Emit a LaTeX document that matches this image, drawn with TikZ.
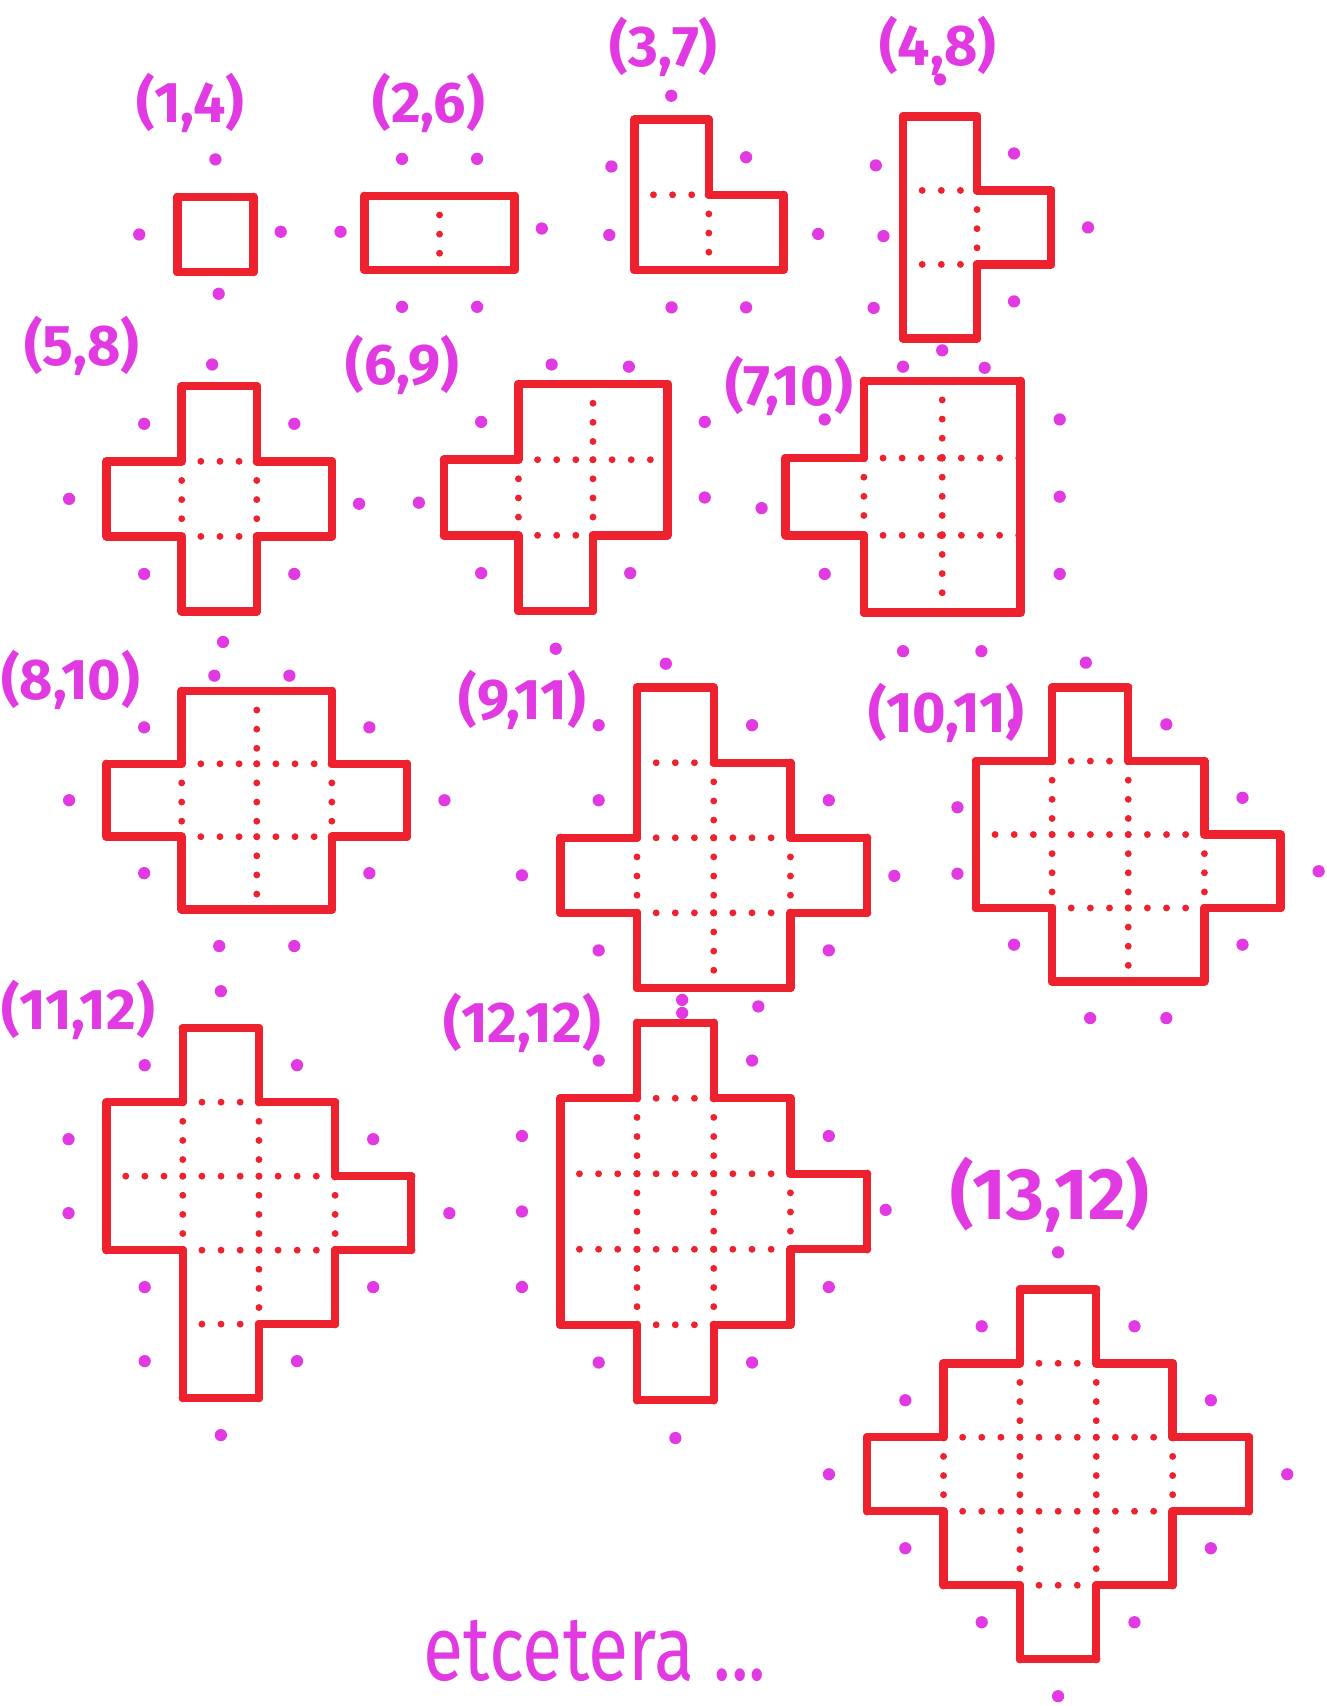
\documentclass[tikz,border=0pt]{standalone}
\usepackage{fontspec}
\setmainfont{Fira Sans}
\usepackage{graphicx}
\definecolor{pred}{RGB}{238,34,46}
\definecolor{pmag}{RGB}{226,58,226}
\tikzset{
  outline/.style={draw=pred,line width=2.2pt,line cap=round},
  inner/.style={draw=pred,line width=1.8pt,line cap=round,dash pattern=on 0pt off 5pt},
  nbdot/.style={fill=pmag,draw=none},
  lab/.style={text=pmag,font=\fontsize{15}{15}\selectfont\bfseries,inner sep=1pt},
  biglab/.style={text=pmag,font=\fontsize{19}{19}\selectfont\bfseries,inner sep=1pt},
  etclab/.style={text=pmag,font=\fontsize{24}{24}\selectfont,inner sep=0pt,text depth=0pt,anchor=base},
}
\newcommand\nbmark[3]{%
  \ifcsname pd-#1-#2-#3\endcsname\else
    \expandafter\gdef\csname pd-#1-#2-#3\endcsname{}%
    \fill[nbdot] (#2+0.5,#3+0.5) circle[radius=1.6pt];%
  \fi}
\newcommand\dotat[5]{%
  \expandafter\gdef\csname pd-#1-#2-#3\endcsname{}%
  \fill[nbdot] (#4,#5) circle[radius=1.6pt];}
\newcommand\polyomino[6]{%
  \begin{scope}[shift={(#2,#3)},x={({#4*0.01cm},0cm)},y={(0cm,{-#5*0.01cm})}]
    \foreach \cx/\cy in {#6}{\expandafter\gdef\csname pc-#1-\cx-\cy\endcsname{}}
    \foreach \cx/\cy in {#6}{%
      \pgfmathtruncatemacro\xl{\cx-1}%
      \pgfmathtruncatemacro\xr{\cx+1}%
      \pgfmathtruncatemacro\yu{\cy-1}%
      \pgfmathtruncatemacro\yd{\cy+1}%
      \ifcsname pc-#1-\xr-\cy\endcsname
        \draw[inner] (\xr,\cy) -- (\xr,\yd);%
      \else
        \draw[outline] (\xr,\cy) -- (\xr,\yd);%
        \nbmark{#1}{\xr}{\cy}%
      \fi
      \ifcsname pc-#1-\cx-\yd\endcsname
        \draw[inner] (\cx,\yd) -- (\xr,\yd);%
      \else
        \draw[outline] (\cx,\yd) -- (\xr,\yd);%
        \nbmark{#1}{\cx}{\yd}%
      \fi
      \ifcsname pc-#1-\xl-\cy\endcsname\else
        \draw[outline] (\cx,\cy) -- (\cx,\yd);%
        \nbmark{#1}{\xl}{\cy}%
      \fi
      \ifcsname pc-#1-\cx-\yu\endcsname\else
        \draw[outline] (\cx,\cy) -- (\xr,\cy);%
        \nbmark{#1}{\cx}{\yu}%
      \fi
    }
  \end{scope}}
\begin{document}
\begin{tikzpicture}[x=0.01cm,y=-0.01cm]
\fill[white] (0,0) rectangle (1219,1568);
\useasboundingbox (0,0) rectangle (1219,1568);
% labels
\node[lab] (l1) at (175,95) {(1,4)};
\node[lab] (l2) at (394,95) {(2,6)};
\node[lab] (l3) at (610,43) {(3,7)};
\node[lab] (l4) at (862,42) {(4,8)};
\node[lab] (l5) at (75,318) {(5,8)};
\node[lab] (l6) at (370,335) {(6,9)};
\node[lab] (l7) at (725,355) {(7,10)};
\node[lab] (l8) at (65,625) {(8,10)};
\node[lab] (l9) at (480,643) {(9,11)};
\node[lab] (l10) at (870,655) {(10,11)};
\node[lab] (l11) at (72,928) {(11,12)};
\node[lab] (l12) at (480,940) {(12,12)};
\node[biglab] (l13) at (965,1098) {(13,12)};
\node[etclab] (etc) at (547,1545) {\scalebox{0.8}[1]{etcetera ...}};
% figures
\dotat{A}{1}{0}{258}{213}
\dotat{A}{0}{1}{201}{270}
\polyomino{A}{163}{181}{70}{69}{0/0}
\dotat{B}{-1}{0}{313}{213}
\dotat{B}{2}{0}{498}{210}
\polyomino{B}{335}{180}{69}{68}{0/0,1/0}
\dotat{C}{0}{-1}{617}{88}
\dotat{C}{-1}{0}{562}{153}
\dotat{C}{-1}{1}{560}{216}
\dotat{C}{2}{1}{752}{215}
\polyomino{C}{583}{110}{68.5}{69}{0/0,0/1,1/1}
\dotat{D}{0}{3}{866}{322}
\dotat{D}{-1}{0}{805}{152}
\dotat{D}{-1}{1}{812}{217}
\dotat{D}{-1}{2}{803}{283}
\polyomino{D}{830}{107}{68}{68}{0/0,0/1,0/2,1/1}
\dotat{E}{1}{3}{205}{590}
\dotat{E}{1}{-1}{195}{335}
\dotat{E}{3}{1}{330}{463}
\polyomino{E}{98}{355}{69}{69}{1/0,0/1,1/1,2/1,1/2}
\dotat{F}{1}{-1}{507}{335}
\dotat{F}{2}{-1}{578}{337}
\dotat{F}{-1}{1}{385}{462}
\polyomino{F}{408}{353}{68.5}{69.5}{1/0,2/0,0/1,1/1,2/1,1/2}
\dotat{G}{1}{-1}{830}{337}
\dotat{G}{2}{-1}{905}{338}
\dotat{G}{-1}{1}{700}{467}
\polyomino{G}{722}{350}{72}{71}{1/0,2/0,0/1,1/1,2/1,1/2,2/2}
\dotat{H}{1}{-1}{197}{621}
\dotat{H}{2}{-1}{266}{621}
\polyomino{H}{98}{635}{69}{67}{1/0,2/0,0/1,1/1,2/1,3/1,1/2,2/2}
\dotat{I}{1}{-1}{612}{610}
\dotat{I}{1}{4}{627}{919}
\dotat{I}{2}{4}{697}{925}
\dotat{I}{4}{2}{822}{805}
\polyomino{I}{515}{632}{70.5}{69}{1/0,1/1,2/1,0/2,1/2,2/2,3/2,1/3,2/3}
\dotat{J}{1}{-1}{998}{609}
\dotat{J}{-1}{1}{880}{742}
\dotat{J}{-1}{2}{880}{803}
\polyomino{J}{897}{632}{70}{67.5}{1/0,0/1,1/1,2/1,0/2,1/2,2/2,3/2,1/3,2/3}
\polyomino{K}{98}{945}{70}{68}{1/0,0/1,1/1,2/1,0/2,1/2,2/2,3/2,1/3,2/3,1/4}
\dotat{L}{1}{-1}{627}{931}
\dotat{L}{4}{2}{814}{1112}
\polyomino{L}{515}{940}{70.5}{69.4}{1/0,0/1,1/1,2/1,0/2,1/2,2/2,3/2,0/3,1/3,2/3,1/4}
\polyomino{M}{797}{1185}{70.2}{68}{2/0,1/1,2/1,3/1,0/2,1/2,2/2,3/2,4/2,1/3,2/3,3/3,2/4}
\end{tikzpicture}
\end{document}
